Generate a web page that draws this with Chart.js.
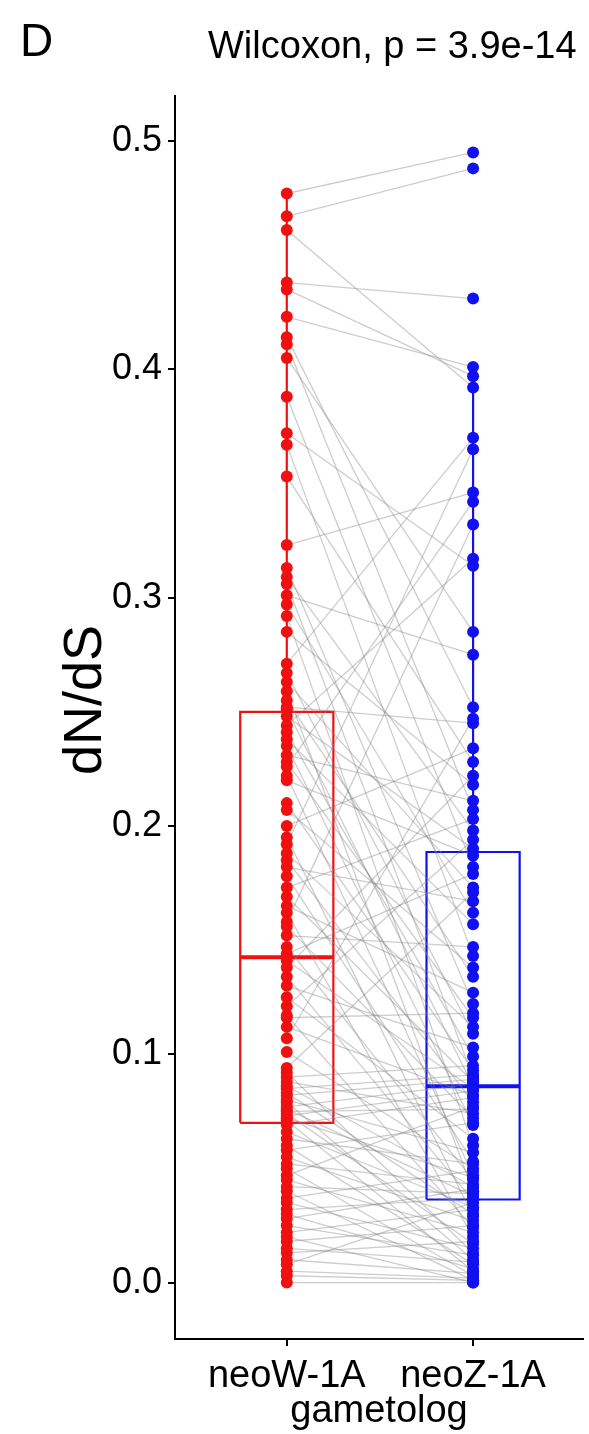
<!DOCTYPE html>
<html>
<head>
<meta charset="utf-8">
<script src="https://cdn.jsdelivr.net/npm/chart.js@4.4.0/dist/chart.umd.min.js"></script>
<style>
  html, body { margin: 0; padding: 0; background: #fff; }
</style>
</head>
<body>
<canvas id="dndsChart" width="589" height="1434"></canvas>
<script>
const groups = ['neoW-1A', 'neoZ-1A'];
const yTicks = [0.0, 0.1, 0.2, 0.3, 0.4, 0.5];
const testLabel = 'Wilcoxon, p = 3.9e-14';
const yTitle = 'dN/dS';

// paired dN/dS values: neoW[i] belongs with neoZ[i]
const neoW = [
  0.477, 0.467, 0.461, 0.438, 0.435, 0.423, 0.414, 0.411, 0.405, 0.388, 0.372, 0.367, 0.353, 0.323,
  0.313, 0.309, 0.306, 0.301, 0.297, 0.292, 0.285, 0.271, 0.267, 0.263, 0.259, 0.255, 0.252, 0.251,
  0.248, 0.244, 0.241, 0.238, 0.235, 0.231, 0.228, 0.226, 0.222, 0.220, 0.210, 0.207, 0.200, 0.195,
  0.192, 0.188, 0.185, 0.182, 0.178, 0.173, 0.169, 0.165, 0.162, 0.158, 0.156, 0.152, 0.147, 0.144,
  0.141, 0.138, 0.134, 0.130, 0.125, 0.121, 0.117, 0.116, 0.112, 0.107, 0.101, 0.094, 0.092, 0.090,
  0.088, 0.086, 0.085, 0.083, 0.082, 0.080, 0.079, 0.077, 0.076, 0.075, 0.074, 0.073, 0.072, 0.071,
  0.069, 0.066, 0.063, 0.060, 0.058, 0.055, 0.052, 0.050, 0.047, 0.045, 0.042, 0.040, 0.037, 0.035,
  0.032, 0.030, 0.028, 0.025, 0.022, 0.020, 0.018, 0.015, 0.013, 0.010, 0.008, 0.005, 0.003, 0.000
];
const neoZ = [
  0.495, 0.488, 0.392, 0.431, 0.397, 0.401, 0.252, 0.207, 0.285, 0.182, 0.314, 0.143, 0.228, 0.346,
  0.122, 0.198, 0.090, 0.275, 0.162, 0.060, 0.218, 0.370, 0.109, 0.173, 0.040, 0.134, 0.245, 0.086,
  0.190, 0.317, 0.099, 0.157, 0.069, 0.211, 0.116, 0.342, 0.047, 0.187, 0.093, 0.138, 0.234, 0.029,
  0.365, 0.112, 0.079, 0.167, 0.053, 0.203, 0.088, 0.127, 0.020, 0.332, 0.072, 0.147, 0.045, 0.179,
  0.085, 0.222, 0.036, 0.103, 0.063, 0.194, 0.024, 0.118, 0.082, 0.247, 0.050, 0.171, 0.013, 0.095,
  0.074, 0.042, 0.091, 0.030, 0.089, 0.057, 0.010, 0.087, 0.038, 0.076, 0.017, 0.084, 0.046, 0.005,
  0.081, 0.033, 0.052, 0.008, 0.070, 0.027, 0.043, 0.003, 0.077, 0.022, 0.039, 0.001, 0.049, 0.015,
  0.037, 0.006, 0.041, 0.012, 0.032, 0.000, 0.025, 0.009, 0.018, 0.004, 0.035, 0.002, 0.001, 0.000
];

// box stats, one entry per group
const boxLow  = [0.000, 0.000];
const boxQ1   = [0.070, 0.0364];
const boxMed  = [0.1425, 0.086];
const boxQ3   = [0.250, 0.1886];
const boxHigh = [0.477, 0.401];

const colors = ['#f01010', '#1010f0'];
const halfBox = 0.25;
const fontFamily = '"Liberation Sans", Arial, sans-serif';

Chart.defaults.font.family = fontFamily;
Chart.defaults.color = '#000';

const datasets = [];

// boxes, medians, whiskers
groups.forEach((g, i) => {
  const c = i + 1;
  datasets.push({
    data: [
      { x: c - halfBox, y: boxQ1[i] }, { x: c - halfBox, y: boxQ3[i] },
      { x: c + halfBox, y: boxQ3[i] }, { x: c + halfBox, y: boxQ1[i] },
      { x: c - halfBox, y: boxQ1[i] }
    ],
    showLine: true, borderColor: colors[i], borderWidth: 2.2, pointRadius: 0, order: 3
  });
  datasets.push({
    data: [{ x: c - halfBox, y: boxMed[i] }, { x: c + halfBox, y: boxMed[i] }],
    showLine: true, borderColor: colors[i], borderWidth: 4, pointRadius: 0, order: 3
  });
  datasets.push({
    data: [
      { x: c, y: boxLow[i] }, { x: c, y: boxQ1[i] }, { x: c, y: null },
      { x: c, y: boxQ3[i] }, { x: c, y: boxHigh[i] }
    ],
    showLine: true, spanGaps: false, borderColor: colors[i], borderWidth: 2.2, pointRadius: 0, order: 3
  });
});

// gray pair lines
neoW.forEach((w, i) => {
  datasets.push({
    data: [{ x: 1, y: w }, { x: 2, y: neoZ[i] }],
    showLine: true, borderColor: 'rgba(130,130,130,0.4)', borderWidth: 1.3, pointRadius: 0, order: 2
  });
});

// points
[neoW, neoZ].forEach((vals, i) => {
  datasets.push({
    data: vals.map(v => ({ x: i + 1, y: v })),
    pointRadius: 6, pointBorderWidth: 0, backgroundColor: colors[i], borderColor: colors[i], order: 1
  });
});

const panelText = {
  id: 'panelText',
  afterDraw(chart) {
    const ctx = chart.ctx;
    ctx.save();
    ctx.fillStyle = '#000';
    ctx.textBaseline = 'alphabetic';
    ctx.font = '46px ' + fontFamily;
    ctx.fillText('D', 20, 56);
    ctx.font = '38px ' + fontFamily;
    ctx.fillText(testLabel, 208, 58);
    // y axis title
    ctx.translate(86, 700);
    ctx.rotate(-Math.PI / 2);
    ctx.textAlign = 'center';
    ctx.textBaseline = 'middle';
    ctx.font = '54px ' + fontFamily;
    ctx.fillText(yTitle, 0, 0);
    ctx.restore();
  }
};

new Chart(document.getElementById('dndsChart'), {
  type: 'scatter',
  data: { datasets },
  plugins: [panelText],
  options: {
    responsive: false,
    animation: false,
    devicePixelRatio: 1,
    layout: { padding: { top: 96, left: 0, right: 0, bottom: 0 } },
    plugins: { legend: { display: false }, tooltip: { enabled: false } },
    scales: {
      x: {
        type: 'linear', min: 0.4, max: 2.59,
        afterBuildTicks: s => { s.ticks = groups.map((g, i) => ({ value: i + 1 })); },
        afterFit: s => { s.height = 95; },
        ticks: { callback: v => groups[Math.round(v) - 1], font: { size: 38 }, color: '#000', padding: 8, autoSkip: false, maxRotation: 0 },
        grid: { drawOnChartArea: false, color: '#000', lineWidth: 2, tickLength: 7 },
        border: { color: '#000', width: 2 },
        title: { display: true, text: 'gametolog', font: { size: 38 }, color: '#000', padding: { top: 0, bottom: 0 } }
      },
      y: {
        type: 'linear', min: -0.0247, max: 0.5197,
        afterBuildTicks: s => { s.ticks = yTicks.map(v => ({ value: v })); },
        afterFit: s => { s.width = 175; },
        ticks: { callback: v => v.toFixed(1), font: { size: 36 }, color: '#000', padding: 6 },
        grid: { drawOnChartArea: false, color: '#000', lineWidth: 2, tickLength: 7 },
        border: { color: '#000', width: 2 }
      }
    }
  }
});
</script>
</body>
</html>
